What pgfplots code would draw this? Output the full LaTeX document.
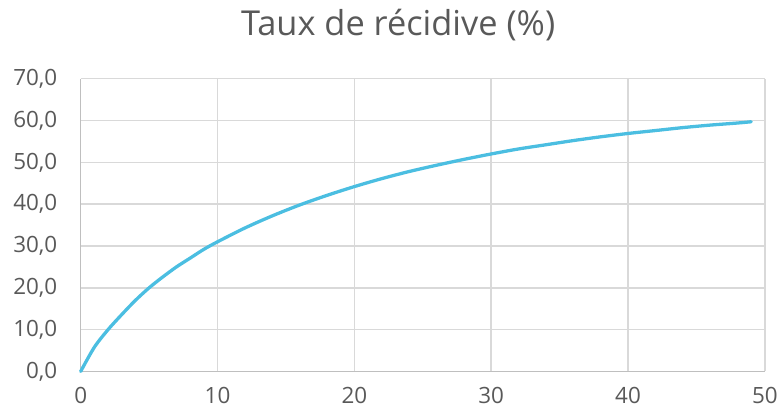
\documentclass[border=0pt]{standalone}
\usepackage{pgfplots}
\pgfplotsset{compat=1.18}
\usepackage{fontspec}
\setmainfont{Open Sans}
\definecolor{curve}{RGB}{75,190,225}
\definecolor{gridc}{RGB}{217,217,217}
\definecolor{axc}{RGB}{191,191,191}
\definecolor{txt}{RGB}{89,89,89}
\begin{document}
\begin{tikzpicture}
\begin{axis}[
  scale only axis,
  width=687pt, height=294pt,
  xmin=0, xmax=50, ymin=0, ymax=70,
  xtick={0,10,...,50}, ytick={0,10,...,70},
  axis lines=left,
  axis line style={draw=axc, line width=1.5pt, -},
  grid=major,
  grid style={draw=gridc, line width=1.5pt},
  major tick length=0pt,
  tick style={draw=none},
  /pgf/number format/assume math mode=true,
  ticklabel style={font=\fontsize{22.5}{27}\selectfont, text=txt},
  yticklabel={\pgfmathprintnumber[fixed,fixed zerofill,precision=1,use comma]{\tick}},
  xticklabel={\pgfmathprintnumber[fixed,precision=0]{\tick}},
  yticklabel style={anchor=east, xshift=-20pt},
  xticklabel style={anchor=north, yshift=-12pt},
  title={Taux de récidive (\%)},
  title style={at={(0.464,1)}, anchor=base, yshift=37pt, font=\fontsize{34.5}{40}\selectfont, text=txt},
  clip=false,
]
\addplot[curve, line width=3.3pt, line join=round, line cap=round, smooth] coordinates {
(0,0) (1,5.8) (2,10) (3,13.6) (4,17) (5,20) (6,22.6) (7,25) (8,27.1) (9,29.2) (10,31)
(12,34.3) (14,37.2) (16,39.8) (18,42.1) (20,44.2) (22,46.1) (24,47.8) (26,49.3) (28,50.7)
(30,52) (32,53.2) (34,54.2) (36,55.2) (38,56.1) (40,56.9) (42,57.6) (44,58.3) (46,58.9) (48,59.4) (49,59.7)
};
\end{axis}
\path (current axis.south west) ++(-81pt,-41pt) rectangle ++(781pt,414pt);
\end{tikzpicture}
\end{document}
